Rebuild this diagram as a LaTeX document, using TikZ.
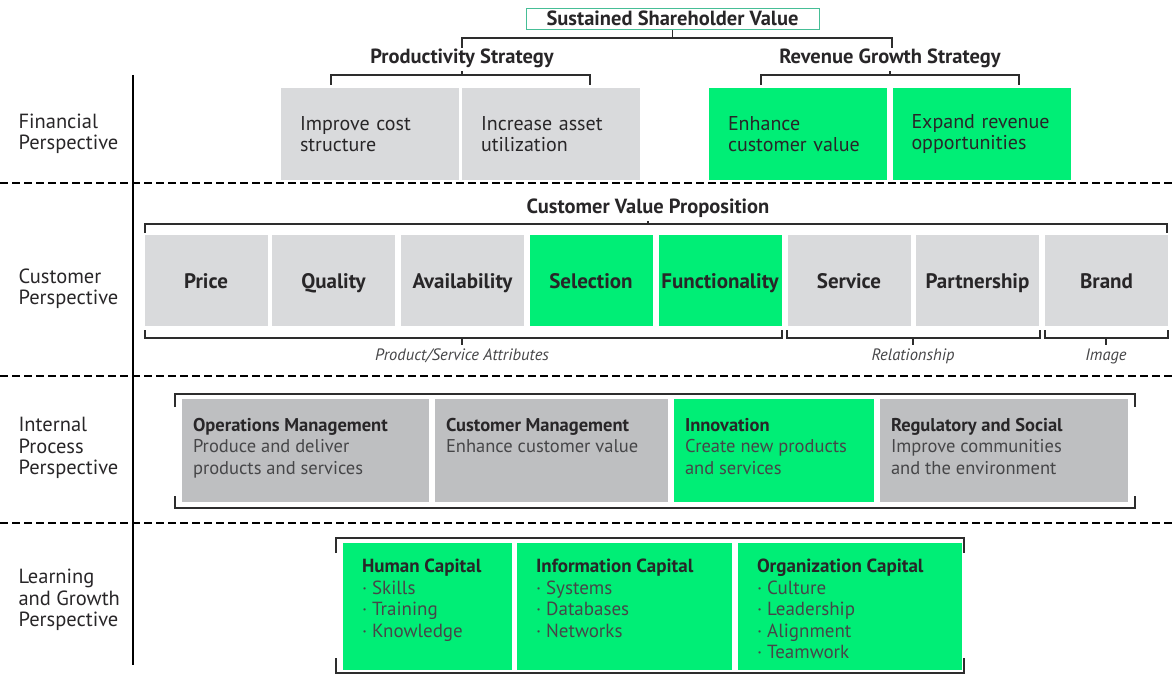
\documentclass[tikz,border=0pt]{standalone}
\usepackage{fontspec}
\setmainfont{PT Sans}
\usetikzlibrary{positioning}

\definecolor{bscgreen}{RGB}{0,238,118}
\definecolor{lightgrey}{RGB}{217,218,220}
\definecolor{midgrey}{RGB}{190,191,193}
\definecolor{textdark}{RGB}{40,38,40}
\definecolor{textsoft}{RGB}{70,70,72}
\definecolor{bracketgrey}{RGB}{45,45,45}
\definecolor{tealline}{RGB}{70,190,150}

\tikzset{
  perspective/.style={anchor=west,align=left,text=textdark,font=\fontsize{20.5}{21.5}\selectfont},
  heading/.style={text=textdark,font=\bfseries\fontsize{20.5}{22}\selectfont},
  finbox/.style={inner xsep=19pt,inner ysep=0pt,text width=140pt,minimum height=92pt,align=left,text=textdark,font=\fontsize{20}{20.5}\selectfont},
  custbox/.style={minimum width=123pt,minimum height=91pt,inner sep=0pt,text height=15pt,text depth=0pt,text=textdark,font=\bfseries\fontsize{21}{22}\selectfont},
  procbox/.style={inner xsep=11pt,inner ysep=0pt,text=textsoft,font=\fontsize{18.5}{21.5}\selectfont},
  learnbox/.style={inner xsep=19pt,inner ysep=0pt,fill=bscgreen,text=textsoft,font=\fontsize{19}{21.5}\selectfont},
  group/.style={text=textsoft,font=\itshape\fontsize{16.5}{18}\selectfont},
  bracket/.style={draw=bracketgrey,line width=1.2pt},
  divider/.style={draw=black,line width=2pt,dash pattern=on 8pt off 4pt},
}

\begin{document}
\begin{tikzpicture}[x=1pt,y=-1pt]
  \useasboundingbox (0,0) rectangle (1173,677);

  % Perspective labels
  \node[perspective] (finLabel) at (15,134) {Financial\\Perspective};
  \node[perspective] (custLabel) at (15,289) {Customer\\Perspective};
  \node[perspective] (procLabel) at (15,448) {Internal\\Process\\Perspective};
  \node[perspective] (learnLabel) at (15,600) {Learning\\and Growth\\Perspective};

  % Dashed dividers and the vertical rule
  \draw[divider] (0,183) -- (1173,183);
  \draw[divider] (0,376) -- (1173,376);
  \draw[divider] (0,523) -- (1173,523);
  \draw[line width=2.5pt] (133,75) -- (133,665);

  % ================== Financial perspective ==================
  \node[heading,draw=tealline,line width=1pt,minimum width=293pt,minimum height=21pt,inner sep=0pt,text height=14pt,text depth=2pt] (shareValue) at (672.5,19.5) {Sustained Shareholder Value};
  \node[heading] (prodStrat) at (462,58) {Productivity Strategy};
  \node[heading] (revStrat) at (890,58) {Revenue Growth Strategy};

  \node[finbox,fill=lightgrey] (costBox) at (370,134) {Improve cost\\structure};
  \node[finbox,fill=lightgrey] (assetBox) at (551,134) {Increase asset\\utilization};
  \node[finbox,fill=bscgreen] (custValBox) at (798,134) {Enhance\\customer value};
  \node[finbox,fill=bscgreen] (revOppBox) at (981.5,134) {Expand revenue\\opportunities};

  % Financial brackets
  \draw[bracket] (shareValue.south) -- (shareValue.south |- 0,38);
  \draw[bracket] (462,48) |- (892,38) -- (892,48);
  \draw[bracket] (prodStrat.south) -- (prodStrat.south |- 0,75);
  \draw[bracket] (331,85) |- (590,75) -- (590,85);
  \draw[bracket] (revStrat.south) -- (revStrat.south |- 0,75);
  \draw[bracket] (761,85) |- (1019,75) -- (1019,85);

  % ================== Customer perspective ==================
  \node[heading] (valueProp) at (648,208) {Customer Value Proposition};
  \draw[bracket] (valueProp.south) -- (valueProp.south |- 0,224);
  \draw[bracket] (145,233) |- (1167,224) -- (1167,233);

  \node[custbox,fill=lightgrey] (price) at (206,280.5) {Price};
  \node[custbox,fill=lightgrey] (quality) at (333.5,280.5) {Quality};
  \node[custbox,fill=lightgrey] (avail) at (462.5,280.5) {Availability};
  \node[custbox,fill=bscgreen] (select) at (591,280.5) {Selection};
  \node[custbox,fill=bscgreen] (funct) at (720,280.5) {Functionality};
  \node[custbox,fill=lightgrey] (service) at (849,280.5) {Service};
  \node[custbox,fill=lightgrey] (partner) at (977.5,280.5) {Partnership};
  \node[custbox,fill=lightgrey] (brand) at (1106.5,280.5) {Brand};

  % Attribute groups
  \node[group] (attrLabel) at (462,356) {Product/Service Attributes};
  \node[group] (relLabel) at (913,356) {Relationship};
  \node[group] (imgLabel) at (1106,356) {Image};
  \draw[bracket] (145,330) |- (782,338) -- (782,330);
  \draw[bracket] (attrLabel.north |- 0,338) -- (attrLabel.north);
  \draw[bracket] (787,330) |- (1040,338) -- (1040,330);
  \draw[bracket] (relLabel.north |- 0,338) -- (relLabel.north);
  \draw[bracket] (1045,330) |- (1168,338) -- (1168,330);
  \draw[bracket] (imgLabel.north |- 0,338) -- (imgLabel.north);

  % ================== Internal process perspective ==================
  \draw[bracket] (175,407) |- (1135,394) -- (1135,407);
  \draw[bracket] (175,496) |- (1135,508) -- (1135,496);

  \node[procbox,fill=midgrey] (opsMgmt) at (305.5,450.5) {\parbox[c][103pt][t]{225pt}{\vspace*{19pt}\textbf{\color{textdark}Operations Management}\\Produce and deliver\\products and services}};
  \node[procbox,fill=midgrey] (custMgmt) at (551.5,450.5) {\parbox[c][103pt][t]{211pt}{\vspace*{19pt}\textbf{\color{textdark}Customer Management}\\Enhance customer value}};
  \node[procbox,fill=bscgreen] (innov) at (774,450.5) {\parbox[c][103pt][t]{178pt}{\vspace*{19pt}\textbf{\color{textdark}Innovation}\\Create new products\\and services}};
  \node[procbox,fill=midgrey] (regSoc) at (1004,450.5) {\parbox[c][103pt][t]{226pt}{\vspace*{19pt}\textbf{\color{textdark}Regulatory and Social}\\Improve communities\\and the environment}};

  % ================== Learning and growth perspective ==================
  \draw[bracket] (336,553) |- (964,538) -- (964,553);
  \draw[bracket] (336,658) |- (964,673) -- (964,658);

  \node[learnbox] (humanCap) at (427.5,606.5) {\parbox[c][127pt][t]{131pt}{\vspace*{16pt}\textbf{\color{textdark}Human Capital}\\· Skills\\· Training\\· Knowledge}};
  \node[learnbox] (infoCap) at (624.5,606.5) {\parbox[c][127pt][t]{177pt}{\vspace*{16pt}\textbf{\color{textdark}Information Capital}\\· Systems\\· Databases\\· Networks}};
  \node[learnbox] (orgCap) at (850,606.5) {\parbox[c][127pt][t]{186pt}{\vspace*{16pt}\textbf{\color{textdark}Organization Capital}\\· Culture\\· Leadership\\· Alignment\\· Teamwork}};
\end{tikzpicture}
\end{document}
